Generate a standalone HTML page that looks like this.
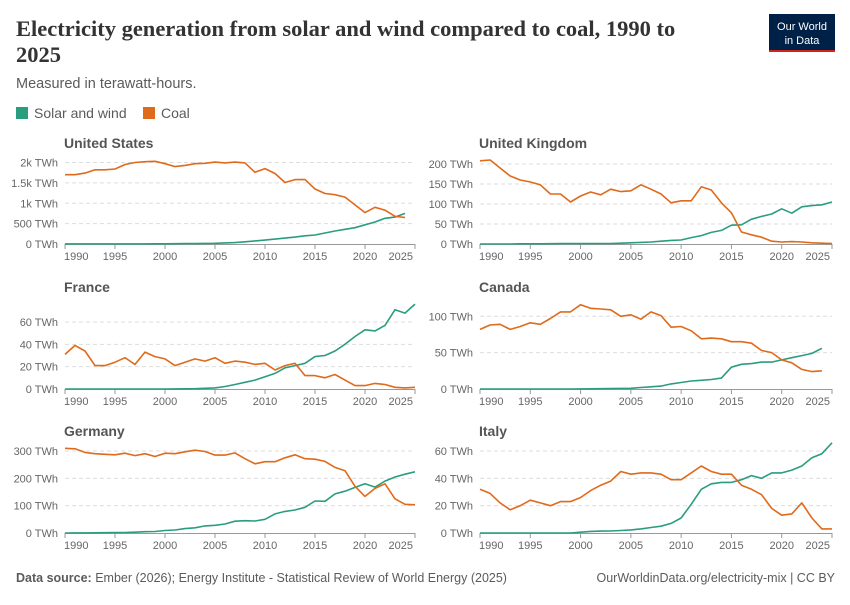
<!DOCTYPE html>
<html><head><meta charset="utf-8"><style>
body{margin:0;background:#fff;width:850px;height:600px;overflow:hidden;font-family:"Liberation Sans",sans-serif}
</style></head><body>
<svg id="s" width="850" height="600" xmlns="http://www.w3.org/2000/svg" font-family="Liberation Sans, sans-serif">
<text x="16" y="36" style="font-family:'Liberation Serif',serif;font-size:22.5px;font-weight:bold" fill="#333">Electricity generation from solar and wind compared to coal, 1990 to</text>
<text x="16" y="62" style="font-family:'Liberation Serif',serif;font-size:22.5px;font-weight:bold" fill="#333">2025</text>
<text x="16" y="88" font-size="14.5" fill="#5b5b5b">Measured in terawatt-hours.</text>
<rect x="16" y="107" width="12" height="12" fill="#2a9d7f"/><text x="34" y="118" font-size="14" fill="#5b5b5b">Solar and wind</text>
<rect x="143" y="107" width="12" height="12" fill="#e06a1b"/><text x="161" y="118" font-size="14" fill="#5b5b5b">Coal</text>
<rect x="769" y="14" width="66" height="38" fill="#002147"/><rect x="769" y="50" width="66" height="2" fill="#ce261e"/>
<text x="802" y="30" font-size="11" fill="#fff" text-anchor="middle">Our World</text>
<text x="802" y="44" font-size="11" fill="#fff" text-anchor="middle">in Data</text>
<text x="16" y="582" font-size="12.5" fill="#5b5b5b"><tspan font-weight="bold">Data source:</tspan> Ember (2026); Energy Institute - Statistical Review of World Energy (2025)</text>
<text x="835" y="582" font-size="12.5" fill="#5b5b5b" text-anchor="end">OurWorldinData.org/electricity-mix | CC BY</text>
</svg>
<script>
const S=document.getElementById('s');
function el(t,a,txt){const e=document.createElementNS('http://www.w3.org/2000/svg',t);for(const k in a)e.setAttribute(k,a[k]);if(txt!=null)e.textContent=txt;S.appendChild(e);return e;}
const P=[
{n:'United States',x0:65,x1:415,y0:244,ty:148,max:2000,ticks:[[0,'0 TWh'],[500,'500 TWh'],[1000,'1k TWh'],[1500,'1.5k TWh'],[2000,'2k TWh']],ytop:162.5,
c:[1700,1700,1740,1820,1820,1840,1950,2000,2020,2030,1970,1900,1930,1970,1980,2010,1990,2010,1990,1760,1850,1730,1510,1580,1580,1350,1240,1210,1150,960,770,900,830,680,650],
w:[3,3,3,3,3,3,3,3,3,5,6,7,11,11,14,18,27,35,55,75,95,120,145,170,200,220,270,320,360,400,470,540,630,660,750]},
{n:'United Kingdom',x0:480,x1:832,y0:244,ty:148,max:200,ticks:[[0,'0 TWh'],[50,'50 TWh'],[100,'100 TWh'],[150,'150 TWh'],[200,'200 TWh']],ytop:164,
c:[208,210,190,170,160,155,148,125,125,105,120,130,123,137,131,133,148,137,125,103,108,108,143,135,103,78,30,23,17,7,5,6,5,3,2,1],
w:[0,0,0,0,0.5,0.5,0.5,0.7,0.9,0.9,1,1,1.3,1.3,2,3,4,5,7,9,10,16,21,29,34,47,48,62,69,75,88,77,93,96,98,105]},
{n:'France',x0:65,x1:415,y0:389,ty:292,max:60,ticks:[[0,'0 TWh'],[20,'20 TWh'],[40,'40 TWh'],[60,'60 TWh']],ytop:322,
c:[31,39,34,21,21,24,28,22,33,29,27,21,24,27,25,28,23,25,24,22,23,17,21,23,12,12,10,13,8,3,3,5,4,1.5,1,1.5],
w:[0,0,0,0,0,0,0,0,0,0,0,0.1,0.2,0.3,0.6,1,2.2,4,6,8,11,14,19,21,23,29,30,34,40,47,53,52,57,71,68,76]},
{n:'Canada',x0:480,x1:832,y0:389,ty:292,max:100,ticks:[[0,'0 TWh'],[50,'50 TWh'],[100,'100 TWh']],ytop:316.3,
c:[82,88,89,82,86,91,89,97,106,106,116,111,110,109,100,102,96,106,101,85,86,80,69,70,69,65,65,63,53,50,40,36,27,24,25],
w:[0,0,0,0,0,0,0,0,0,0,0.2,0.3,0.4,0.5,0.8,1,2,3,4,7,9,11,12,13,15,30,34,35,37,37,40,43,46,49,56]},
{n:'Germany',x0:65,x1:415,y0:533,ty:436,max:300,ticks:[[0,'0 TWh'],[100,'100 TWh'],[200,'200 TWh'],[300,'300 TWh']],ytop:451,
c:[310,308,295,290,288,286,292,283,290,280,292,290,297,303,298,285,285,293,272,253,261,261,275,286,272,270,262,240,228,171,134,163,180,125,105,103],
w:[0,0.2,0.3,0.6,1,1.5,2,3,4.6,5.5,9,11,16,19,26,28,33,43,45,44,50,70,79,84,94,117,116,143,153,167,180,168,190,205,215,224]},
{n:'Italy',x0:480,x1:832,y0:533,ty:436,max:60,ticks:[[0,'0 TWh'],[20,'20 TWh'],[40,'40 TWh'],[60,'60 TWh']],ytop:451,
c:[32,29,22,17,20,24,22,20,23,23,26,31,35,38,45,43,44,44,43,39,39,44,49,45,43,43,35,32,28,18,13,14,22,11,3,3],
w:[0,0,0,0,0,0,0,0,0,0,0.6,1.2,1.4,1.5,1.8,2.3,3,4,5,7,11,21,32,36,37,37,39,42,40,44,44,46,49,55,58,66]}
];
for(const p of P){
 const dx=(p.x1-p.x0)/35,sc=(p.y0-p.ytop)/p.max;
 el('text',{x:p.x0-1,y:p.ty,'font-size':14,'font-weight':'bold',fill:'#555'},p.n);
 for(const [v,l] of p.ticks){const y=p.y0-v*sc;
  if(v>0)el('line',{x1:p.x0,x2:p.x1,y1:y,y2:y,stroke:'#ddd','stroke-dasharray':'4,3'});
  el('text',{x:p.x0-7,y:y+4,'font-size':11,fill:'#666','text-anchor':'end'},l);}
 el('line',{x1:p.x0,x2:p.x1,y1:p.y0+0.5,y2:p.y0+0.5,stroke:'#999'});
 for(let yr=1990;yr<=2025;yr+=5){const x=p.x0+(yr-1990)*dx;
  el('line',{x1:x,x2:x,y1:p.y0,y2:p.y0+5,stroke:'#999'});
  let a='middle',tx=x;if(yr==1990){a='start';tx=x-1}if(yr==2025){a='end';tx=x-2}
  el('text',{x:tx,y:p.y0+16,'font-size':11,fill:'#666','text-anchor':a},String(yr));}
 for(const [d,col] of [[p.w,'#2a9d7f'],[p.c,'#e06a1b']]){
  el('polyline',{points:d.map((v,i)=>(p.x0+i*dx).toFixed(1)+','+(p.y0-v*sc).toFixed(1)).join(' '),fill:'none',stroke:col,'stroke-width':1.6,'stroke-linejoin':'round'});}
}
</script>
</body></html>
